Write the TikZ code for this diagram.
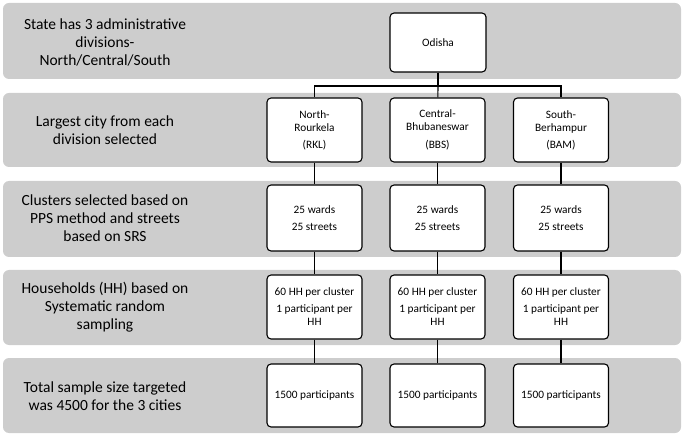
\documentclass[tikz,border=0pt]{standalone}
\usepackage{fontspec}
\setmainfont{Carlito}
\usepackage{xcolor}
\definecolor{bandgray}{RGB}{205,205,205}

\tikzset{
  band/.style={fill=bandgray, rounded corners=6pt, minimum width=678, inner sep=0pt},
  stagetext/.style={align=center, font=\fontsize{15.5}{18}\selectfont},
  stagebox/.style={draw=black, line width=1.1pt, rounded corners=4pt, fill=white,
    minimum width=95, inner sep=1pt, align=center, font=\fontsize{11.3}{13}\selectfont},
  link/.style={line width=1.1pt},
}

\begin{document}
\begin{tikzpicture}[x=1pt, y=-1pt]
    \useasboundingbox (0,0) rectangle (685,438);
    % grey bands
    \node[band, minimum height=76] (b1) at (342,41) {};
    \node[band, minimum height=74] (b2) at (342,130) {};
    \node[band, minimum height=76] (b3) at (342,219) {};
    \node[band, minimum height=75] (b4) at (342,307.5) {};
    \node[band, minimum height=75] (b5) at (342,395.5) {};
    % band texts
    \node[stagetext] (t1) at (105,42) {State has 3 administrative\\divisions-\\North/Central/South};
    \node[stagetext] (t2) at (105,130) {Largest city from each\\division selected};
    \node[stagetext] (t3) at (105,218) {Clusters selected based on\\PPS method and streets\\based on SRS};
    \node[stagetext] (t4) at (105,307) {Households (HH) based on\\Systematic random\\sampling};
    \node[stagetext] (t5) at (105,396) {Total sample size targeted\\was 4500 for the 3 cities};
    % boxes
    \node[stagebox, minimum width=96, minimum height=59] (odisha) at (438,42.5) {Odisha};
    \node[stagebox, minimum height=64] (rkl) at (314.5,130) {North-\\Rourkela\\[4pt](RKL)};
    \node[stagebox, minimum height=64] (bbs) at (437.5,130) {Central-\\Bhubaneswar\\[5pt](BBS)};
    \node[stagebox, minimum height=64] (bam) at (561,130) {South-\\Berhampur\\[4pt](BAM)};
    \node[stagebox, minimum height=66] (wrkl) at (314.5,218) {25 wards\\[4pt]25 streets};
    \node[stagebox, minimum height=66] (wbbs) at (437.5,218) {25 wards\\[4pt]25 streets};
    \node[stagebox, minimum height=66] (wbam) at (561,218) {25 wards\\[4pt]25 streets};
    \node[stagebox, minimum height=64] (hrkl) at (314.5,307) {60 HH per cluster\\[4pt]1 participant per\\HH};
    \node[stagebox, minimum height=64] (hbbs) at (437.5,307) {60 HH per cluster\\[4pt]1 participant per\\HH};
    \node[stagebox, minimum height=64] (hbam) at (561,307) {60 HH per cluster\\[4pt]1 participant per\\HH};
    \node[stagebox, minimum height=63] (prkl) at (314.5,395.5) {1500 participants};
    \node[stagebox, minimum height=63] (pbbs) at (437.5,395.5) {1500 participants};
    \node[stagebox, minimum height=63] (pbam) at (561,395.5) {1500 participants};
    % connectors
    \coordinate (split) at (438,86);
    \draw[link] (odisha) -- (split);
    \draw[link] (split) -| (rkl);
    \draw[link] (split) -| (bam);
    \draw[link] (split) -- (bbs);
    \draw[link] (rkl) -- (wrkl);
    \draw[link] (bbs) -- (wbbs);
    \draw[link] (bam) -- (wbam);
    \draw[link] (wrkl) -- (hrkl);
    \draw[link] (wbbs) -- (hbbs);
    \draw[link] (wbam) -- (hbam);
    \draw[link] (hrkl) -- (prkl);
    \draw[link] (hbbs) -- (pbbs);
    \draw[link] (hbam) -- (pbam);
\end{tikzpicture}
\end{document}
